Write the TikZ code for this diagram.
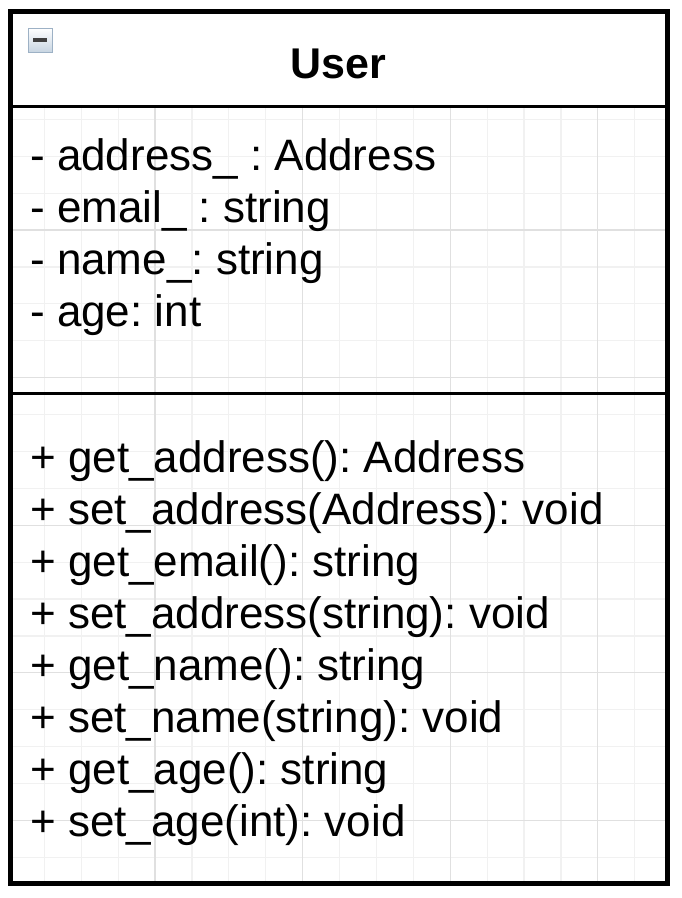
\documentclass[tikz,border=0pt]{standalone}
\usepackage{fontspec}
\setmainfont{Liberation Sans}
\usetikzlibrary{calc}
\definecolor{gridminor}{HTML}{F1F1F1}
\definecolor{gridmajor}{HTML}{E0E0E0}
\definecolor{iconedge}{HTML}{9DB1C5}
\definecolor{iconlow}{HTML}{C8D5E2}
\tikzset{
	member/.style={anchor=base west, inner sep=0pt, font=\fontsize{44}{52}\selectfont\frenchspacing},
	classname/.style={anchor=base, inner sep=0pt, font=\fontsize{43}{52}\selectfont\bfseries}
}

\begin{document}
\begin{tikzpicture}[x=1pt, y=-1pt]
		\useasboundingbox (0,0) rectangle (682,898);
		
		%%%%% GRID %%%%%
		\begin{scope}
			\clip (10,106) rectangle (667,883);
			\foreach \i in {-5,...,14} \draw[gridminor, line width=1.2pt] ({155+36.9*\i},106) -- ({155+36.9*\i},883);
			\foreach \i in {-4,...,18} \draw[gridminor, line width=1.2pt] (10,{230+36.9*\i}) -- (667,{230+36.9*\i});
			\foreach \i in {-1,...,3} \draw[gridmajor, line width=1.2pt] ({155+147.6*\i},106) -- ({155+147.6*\i},883);
			\foreach \i in {-1,...,5} \draw[gridmajor, line width=1.2pt] (10,{230+147.6*\i}) -- (667,{230+147.6*\i});
		\end{scope}
		
		%%%%% CLASS BOX %%%%%
		\draw[line width=5pt] (10,11) rectangle (667,883);
		\draw[line width=3pt] (10,106) -- (667,106);
		\draw[line width=3pt] (10,393) -- (667,393);
		
		% collapse icon
		\shade[top color=white, bottom color=iconlow, draw=iconedge, line width=1pt] (28,28) rectangle (52,52);
		\coordinate (iconmid) at (40,40);
		\draw[line width=3.5pt, black!75] ($(iconmid)+(-7,0)$) -- ($(iconmid)+(7,0)$);
		
		\node[classname] (user) at (338.5,78) {User};
		
		% attributes
		\node[member] (address) at (30,170) {- address\_ : Address};
		\node[member] (email) at (30,222) {- email\_ : string};
		\node[member] (name) at (30,274) {- name\_: string};
		\node[member] (age) at (30,326) {- age: int};
		
		% methods
		\node[member] (getaddress) at (30,472) {+ get\_address(): Address};
		\node[member] (setaddress) at (30,524) {+ set\_address(Address): void};
		\node[member] (getemail) at (30,576) {+ get\_email(): string};
		\node[member] (setemail) at (30,628) {+ set\_address(string): void};
		\node[member] (getname) at (30,680) {+ get\_name(): string};
		\node[member] (setname) at (30,732) {+ set\_name(string): void};
		\node[member] (getage) at (30,784) {+ get\_age(): string};
		\node[member] (setage) at (30,836) {+ set\_age(int): void};
		
		%%%%% END %%%%%
\end{tikzpicture}
\end{document}
